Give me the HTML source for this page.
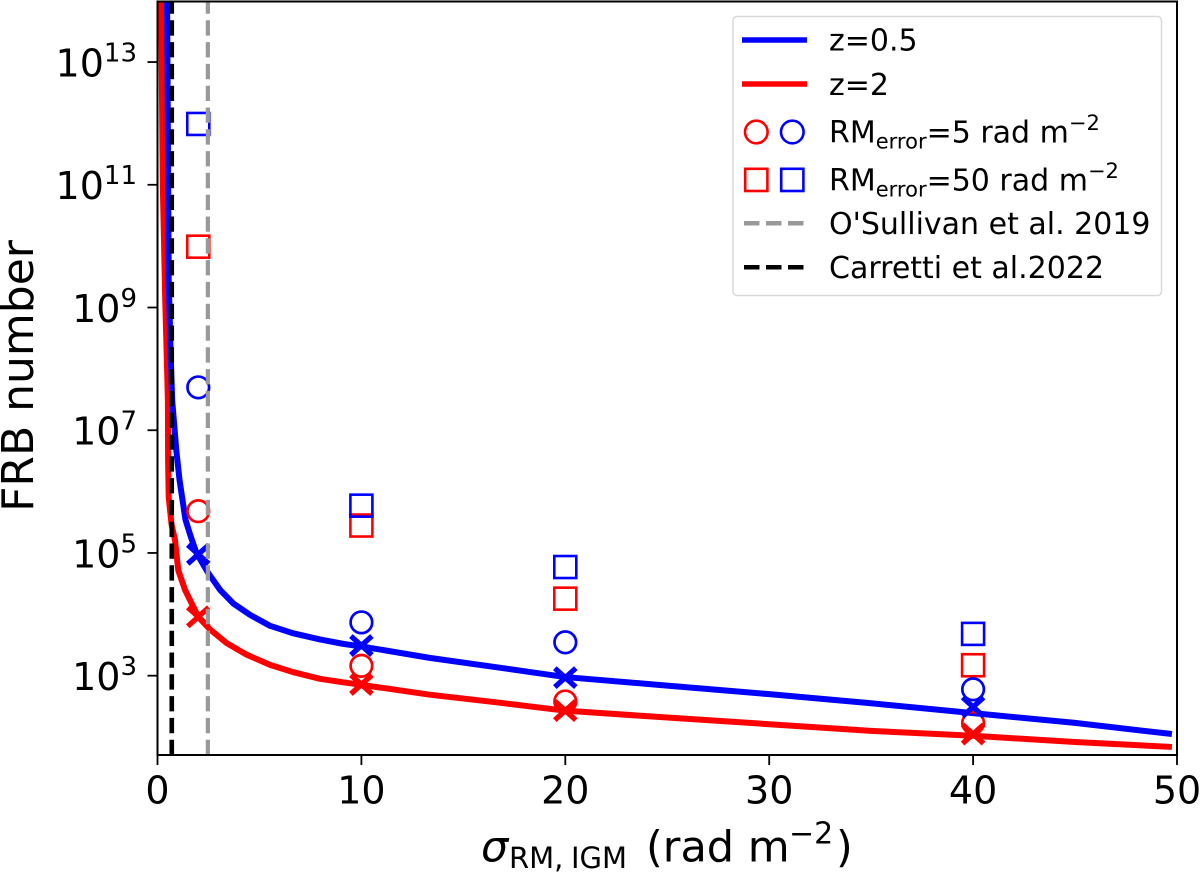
<!DOCTYPE html>
<html>
<head>
<meta charset="utf-8">
<title>FRB number vs sigma RM IGM</title>
<style>
html,body{margin:0;padding:0;background:#fff;}
svg{display:block;}
text{font-family:"DejaVu Sans","Liberation Sans",sans-serif;fill:#000;}
</style>
</head>
<body>
<svg id="chart" xmlns="http://www.w3.org/2000/svg" width="1200" height="873" viewBox="0 0 1200 873">
<defs><clipPath id="plot-clip"><rect x="157.5" y="1.5" width="1019.5" height="753.5"/></clipPath></defs>
<g id="marks" clip-path="url(#plot-clip)"></g>
<g id="axes"></g>
<text transform="translate(33,376) rotate(-90)" text-anchor="middle" font-size="44">FRB number</text>
<text x="481" y="861.5" font-size="43"><tspan font-style="italic">σ</tspan><tspan font-size="29" dy="6.5" x="509">RM,</tspan><tspan font-size="29" x="571">IGM</tspan><tspan dy="-6.5" x="646">(rad m</tspan><tspan font-size="30" dy="-18" x="789">−2</tspan><tspan dy="18" x="836">)</tspan></text>
<g>
<rect x="733" y="16.5" width="428.5" height="279" rx="4" fill="#fff" fill-opacity="0.8" stroke="#d9d9d9" stroke-width="1.5"/>
<line x1="742" x2="807" y1="40" y2="40" stroke="#0000ff" stroke-width="5.5"/>
<text x="829" y="50.5" font-size="30">z=0.5</text>
<line x1="742" x2="807" y1="84" y2="84" stroke="#ff0000" stroke-width="5.5"/>
<text x="829" y="95" font-size="30">z=2</text>
<circle cx="756.3" cy="132" r="11.3" fill="none" stroke="#ff0000" stroke-width="2.6"/>
<circle cx="792.3" cy="132" r="11.3" fill="none" stroke="#0000ff" stroke-width="2.6"/>
<text x="829" y="142.5" font-size="30">RM<tspan font-size="21" dy="6">error</tspan><tspan dy="-6">=5 rad m</tspan><tspan font-size="21" dy="-12.5">−2</tspan></text>
<rect x="745.2" y="168.8" width="22.2" height="22.2" fill="none" stroke="#ff0000" stroke-width="2.6"/>
<rect x="781.2" y="168.8" width="22.2" height="22.2" fill="none" stroke="#0000ff" stroke-width="2.6"/>
<text x="829" y="190.5" font-size="30">RM<tspan font-size="21" dy="6">error</tspan><tspan dy="-6">=50 rad m</tspan><tspan font-size="21" dy="-12.5">−2</tspan></text>
<line x1="744" x2="803.5" y1="223.3" y2="223.3" stroke="#999999" stroke-width="4.5" stroke-dasharray="15.5 6.5"/>
<text x="829" y="234" font-size="30">O'Sullivan et al. 2019</text>
<line x1="744" x2="803.5" y1="267.3" y2="267.3" stroke="#000000" stroke-width="4.5" stroke-dasharray="15.5 6.5"/>
<text x="829" y="278" font-size="30">Carretti et al.2022</text>
</g>
</svg>
<script>
// Chart data
const xTicks = [0, 10, 20, 30, 40, 50];
const yTickExponents = [3, 5, 7, 9, 11, 13];
const xDomain = [0, 50];
const yDomain = [51, 9.7e13];

const curveZ05Sigma = [0.47, 0.55, 0.64, 0.72, 0.92, 1.08, 1.37, 1.62, 1.91, 2.49, 3.07, 3.72, 4.54, 5.52, 6.66, 7.97, 9.11, 10, 13.35, 16.78, 20, 25, 30, 35, 40, 45, 49.75];
const curveZ05Number = [1e14, 2.8e9, 2.0e8, 3.1e7, 4.8e6, 1.55e6, 3.5e5, 1.9e5, 1e5, 4.7e4, 2.5e4, 1.5e4, 9.8e3, 6.5e3, 4.9e3, 3.9e3, 3.3e3, 3.0e3, 1.95e3, 1350, 950, 690, 500, 355, 245, 170, 112];
const curveZ2Sigma = [0.18, 0.26, 0.38, 0.51, 0.52, 0.55, 0.69, 0.86, 1.02, 1.35, 1.68, 2.0, 2.57, 3.39, 4.37, 5.52, 6.66, 7.97, 9.11, 10, 13.35, 16.78, 20, 25, 30, 35, 40, 45, 49.75];
const curveZ2Number = [1e14, 1e11, 1.3e9, 3.1e7, 3.2e6, 8.1e5, 2.9e5, 1.6e5, 5.2e4, 2.5e4, 1.5e4, 9.1e3, 5.7e3, 3.4e3, 2.2e3, 1.5e3, 1.14e3, 890, 780, 710, 490, 363, 269, 208, 162, 126, 105, 83, 69];

const markerSigma = [2, 10, 20, 40];
const crossZ05 = [9.5e4, 3.1e3, 930, 310];
const crossZ2 = [9.1e3, 720, 270, 112];
const circleZ05 = [5.0e7, 7.4e3, 3.5e3, 600];
const circleZ2 = [4.8e5, 1450, 380, 170];
const squareZ05 = [9.8e11, 5.9e5, 5.9e4, 4.8e3];
const squareZ2 = [9.8e9, 2.8e5, 1.8e4, 1480];

const osullivanSigma = 2.47;
const carrettiSigma = 0.7;

// Axis functions
const plot = { left: 157.5, right: 1177, top: 1.5, bottom: 755 };
function xScale(v) {
  return plot.left + (v - xDomain[0]) / (xDomain[1] - xDomain[0]) * (plot.right - plot.left);
}
function yScale(v) {
  const lo = Math.log10(yDomain[0]), hi = Math.log10(yDomain[1]);
  return plot.bottom - (Math.log10(v) - lo) / (hi - lo) * (plot.bottom - plot.top);
}

const NS = 'http://www.w3.org/2000/svg';
const marks = document.getElementById('marks');
const axes = document.getElementById('axes');
function make(parent, tag, props) {
  const el = document.createElementNS(NS, tag);
  for (const k in props) el.setAttribute(k, props[k]);
  parent.appendChild(el);
  return el;
}
function curvePoints(xs, ys) {
  return xs.map(function (x, i) { return xScale(x).toFixed(2) + ',' + yScale(ys[i]).toFixed(2); }).join(' ');
}

// Curves
const redCurve = make(marks, 'polyline', { points: curvePoints(curveZ2Sigma, curveZ2Number), fill: 'none', stroke: '#ff0000', 'stroke-width': 6, 'stroke-linejoin': 'round' });


const blueCurve = make(marks, 'polyline', { points: curvePoints(curveZ05Sigma, curveZ05Number), fill: 'none', stroke: '#0000ff', 'stroke-width': 6, 'stroke-linejoin': 'round' });



// Markers
function drawCross(values, color, name) {
  values.forEach(function (v, i) {
    const cx = xScale(markerSigma[i]), cy = yScale(v), r = 10.5;
    const d = 'M' + (cx - r) + ' ' + (cy - r * 0.9) + 'L' + (cx + r) + ' ' + (cy + r * 0.9) + 'M' + (cx - r) + ' ' + (cy + r * 0.9) + 'L' + (cx + r) + ' ' + (cy - r * 0.9);
    const el = make(marks, 'path', { d: d, fill: 'none', stroke: color, 'stroke-width': 5.3 });
    
    
  });
}
function drawCircle(values, color, name) {
  values.forEach(function (v, i) {
    const el = make(marks, 'circle', { cx: xScale(markerSigma[i]), cy: yScale(v), r: 10.8, fill: 'none', stroke: color, 'stroke-width': 2.7 });
    
    
  });
}
function drawSquare(values, color, name) {
  values.forEach(function (v, i) {
    const el = make(marks, 'rect', { x: xScale(markerSigma[i]) - 11, y: yScale(v) - 11, width: 22, height: 22, fill: 'none', stroke: color, 'stroke-width': 2.6 });
    
    
  });
}
drawSquare(squareZ2, '#ff0000', 'square-z2');
drawSquare(squareZ05, '#0000ff', 'square-z05');
drawCircle(circleZ2, '#ff0000', 'circle-z2');
drawCircle(circleZ05, '#0000ff', 'circle-z05');
drawCross(crossZ2, '#ff0000', 'cross-z2');
drawCross(crossZ05, '#0000ff', 'cross-z05');

// Reference lines
const grayLine = make(marks, 'line', { x1: xScale(osullivanSigma), x2: xScale(osullivanSigma), y1: plot.bottom, y2: plot.top, stroke: '#999999', 'stroke-width': 4.2, 'stroke-dasharray': '15.3 6.5' });


const blackLine = make(marks, 'line', { x1: xScale(carrettiSigma), x2: xScale(carrettiSigma), y1: plot.bottom, y2: plot.top, stroke: '#000000', 'stroke-width': 4.6, 'stroke-dasharray': '15.3 6.5' });



// Spines
const frame = make(axes, 'rect', { x: plot.left, y: plot.top, width: plot.right - plot.left, height: plot.bottom - plot.top, fill: 'none', stroke: '#000', 'stroke-width': 2 });



// X ticks
xTicks.forEach(function (t) {
  const px = xScale(t);
  const tick = make(axes, 'line', { x1: px, x2: px, y1: plot.bottom, y2: plot.bottom + 10, stroke: '#000', 'stroke-width': 1.8 });
  
  
  const label = make(axes, 'text', { x: px, y: 803.3, 'text-anchor': 'middle', 'font-size': 38 });
  label.textContent = String(t);
  
  
});

// Y ticks
yTickExponents.forEach(function (e) {
  const py = yScale(Math.pow(10, e));
  const tick = make(axes, 'line', { x1: plot.left - 10, x2: plot.left, y1: py, y2: py, stroke: '#000', 'stroke-width': 1.8 });
  
  
  const label = make(axes, 'text', { x: 137, y: py + 14.3, 'text-anchor': 'end', 'font-size': 38 });
  
  
  const base = make(label, 'tspan', {});
  base.textContent = '10';
  const sup = make(label, 'tspan', { 'font-size': 26, dy: -15 });
  sup.textContent = String(e);
});
</script>
</body>
</html>
